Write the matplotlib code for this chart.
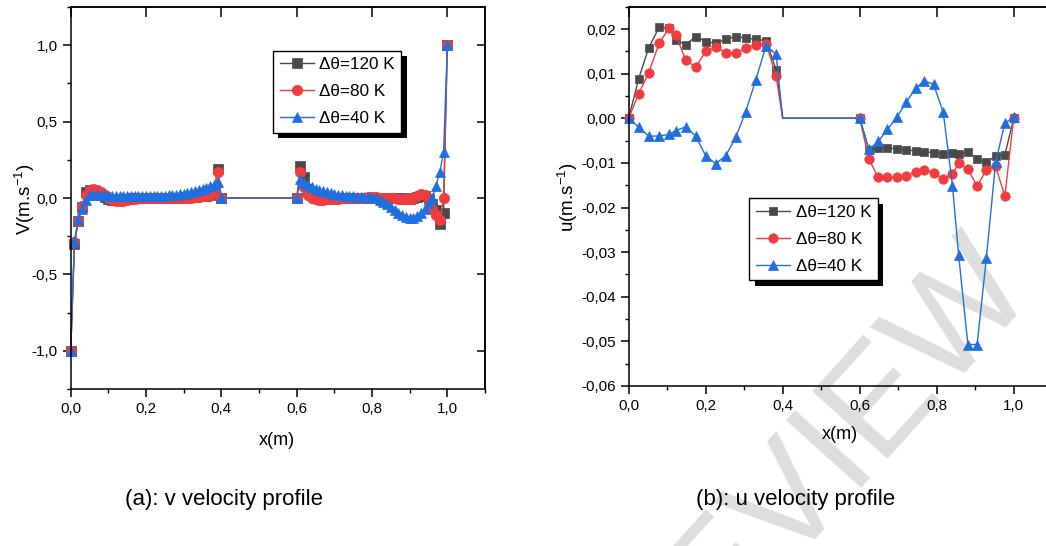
import numpy as np
import matplotlib
matplotlib.use('Agg')
import matplotlib.pyplot as plt
from matplotlib.ticker import MultipleLocator, FuncFormatter, NullLocator
import matplotlib.patheffects as pe

REG = ['Liberation Sans', 'DejaVu Sans']
plt.rcParams['font.family'] = REG
plt.rcParams['mathtext.default'] = 'regular'

series_labels = ['Δθ=120 K', 'Δθ=80 K', 'Δθ=40 K']
colors = ['#4a4a4a', '#ef3d3d', '#1f6fdf']
markers = ['s', 'o', '^']

# ---------------- (a) v velocity profile ----------------
xv_seg1 = [0.00, 0.01, 0.02, 0.03, 0.04, 0.05, 0.06, 0.07, 0.08, 0.09,
           0.10, 0.11, 0.12, 0.13, 0.14, 0.15, 0.16, 0.17, 0.18, 0.19,
           0.20, 0.21, 0.22, 0.23, 0.24, 0.25, 0.26, 0.27, 0.28, 0.29,
           0.30, 0.31, 0.32, 0.33, 0.34, 0.35, 0.36, 0.37, 0.38, 0.39, 0.40]
xv_seg2 = [0.60, 0.61, 0.62, 0.63, 0.64, 0.65, 0.66, 0.67, 0.68, 0.69,
           0.70, 0.71, 0.72, 0.73, 0.74, 0.75, 0.76, 0.77, 0.78, 0.79,
           0.80, 0.81, 0.82, 0.83, 0.84, 0.85, 0.86, 0.87, 0.88, 0.89,
           0.90, 0.91, 0.92, 0.93, 0.94, 0.95, 0.96, 0.97, 0.98, 0.99, 1.00]

v120_seg1 = [-1.00, -0.30, -0.15, -0.06, 0.04, 0.05, 0.045, 0.035, 0.02, 0.005,
             -0.008, -0.014, -0.015, -0.013, -0.009, -0.005, -0.003, -0.002, -0.001, 0.0,
             0.0, 0.0, 0.0, 0.0, 0.0, 0.0, 0.001, 0.001, 0.002, 0.003,
             0.004, 0.005, 0.006, 0.008, 0.010, 0.012, 0.015, 0.02, 0.03, 0.19, 0.0]
v80_seg1 = [-1.00, -0.29, -0.15, -0.05, 0.02, 0.05, 0.06, 0.055, 0.04, 0.02,
            0.0, -0.015, -0.022, -0.022, -0.018, -0.012, -0.007, -0.004, -0.002, -0.001,
            -0.001, -0.002, -0.003, -0.003, -0.003, -0.003, -0.003, -0.002, -0.001, 0.0,
            0.001, 0.002, 0.003, 0.005, 0.007, 0.010, 0.015, 0.022, 0.04, 0.17, 0.0]
v40_seg1 = [-1.00, -0.28, -0.14, -0.07, -0.01, 0.02, 0.022, 0.022, 0.02, 0.018,
            0.016, 0.014, 0.013, 0.012, 0.012, 0.011, 0.011, 0.011, 0.011, 0.011,
            0.011, 0.012, 0.012, 0.013, 0.014, 0.015, 0.017, 0.019, 0.022, 0.025,
            0.029, 0.034, 0.039, 0.045, 0.052, 0.059, 0.067, 0.076, 0.088, 0.105, 0.0]

v120_seg2 = [0.0, 0.21, 0.14, 0.06, 0.02, 0.0, -0.005, -0.006, -0.006, -0.005,
             -0.004, -0.003, -0.002, -0.001, 0.0, 0.0, 0.0, 0.0, 0.0, 0.0,
             0.0, 0.0, 0.0, 0.0, 0.0, 0.0, 0.0, 0.0, -0.002, -0.004,
             -0.004, 0.0, 0.008, 0.015, 0.012, -0.005, -0.04, -0.08, -0.17, -0.10, 1.0]
v80_seg2 = [0.0, 0.17, 0.07, 0.02, 0.0, -0.008, -0.01, -0.01, -0.009, -0.007,
            -0.005, -0.004, -0.003, -0.002, -0.001, 0.0, 0.001, 0.002, 0.003, 0.004,
            0.004, 0.004, 0.003, 0.002, 0.001, 0.0, -0.002, -0.004, -0.006, -0.008,
            -0.008, -0.002, 0.012, 0.024, 0.02, -0.02, -0.07, -0.11, -0.145, 0.0, 1.0]
v40_seg2 = [0.0, 0.125, 0.10, 0.085, 0.072, 0.062, 0.053, 0.045, 0.038, 0.032,
            0.027, 0.022, 0.018, 0.015, 0.012, 0.010, 0.008, 0.007, 0.006, 0.005,
            0.003, -0.003, -0.012, -0.025, -0.042, -0.06, -0.078, -0.095, -0.11, -0.122,
            -0.128, -0.128, -0.12, -0.10, -0.07, -0.035, 0.0, 0.08, 0.17, 0.30, 1.0]

# ---------------- (b) u velocity profile ----------------
xu_seg1 = [0.0, 0.026, 0.052, 0.079, 0.105, 0.122, 0.148, 0.174, 0.200, 0.226,
           0.252, 0.278, 0.304, 0.330, 0.357, 0.383, 0.400]
xu_seg2 = [0.600, 0.624, 0.648, 0.672, 0.697, 0.721, 0.745, 0.768, 0.792, 0.817,
           0.841, 0.857, 0.881, 0.905, 0.929, 0.953, 0.977, 1.000]

u120_seg1 = [0.0, 0.0089, 0.0158, 0.0204, 0.0203, 0.0175, 0.0165, 0.0183, 0.0172, 0.0168,
             0.0177, 0.0183, 0.0180, 0.0177, 0.0174, 0.0108, 0.0]
u80_seg1 = [0.0, 0.0055, 0.0102, 0.0168, 0.0202, 0.0187, 0.0131, 0.0114, 0.0150, 0.0160,
            0.0147, 0.0146, 0.0157, 0.0165, 0.0167, 0.0094, 0.0]
u40_seg1 = [0.0, -0.0020, -0.0040, -0.0040, -0.0036, -0.0028, -0.0019, -0.0040, -0.0084, -0.0102,
            -0.0084, -0.0043, 0.0015, 0.0086, 0.0163, 0.0143, 0.0]

u120_seg2 = [0.0, -0.0072, -0.0067, -0.0066, -0.0069, -0.0071, -0.0073, -0.0075, -0.0077, -0.0079,
             -0.0077, -0.0079, -0.0076, -0.0092, -0.0099, -0.0084, -0.0082, 0.0]
u80_seg2 = [0.0, -0.0092, -0.0132, -0.0132, -0.0132, -0.0129, -0.0121, -0.0116, -0.0122, -0.0136,
            -0.0125, -0.0101, -0.0114, -0.0152, -0.0116, -0.0108, -0.0174, 0.0]
u40_seg2 = [0.0, -0.0070, -0.0052, -0.0025, 0.0003, 0.0036, 0.0067, 0.0084, 0.0076, 0.0013,
            -0.0151, -0.0307, -0.0507, -0.0507, -0.0313, -0.0099, -0.0011, 0.0002]

captions = ['(a): v velocity profile', '(b): u velocity profile']

W, H = 1046, 546
fig = plt.figure(figsize=(W / 100, H / 100), dpi=100)

def px_axes(l, t, r, b):
    return fig.add_axes([l / W, 1 - b / H, (r - l) / W, (b - t) / H])

axA = px_axes(70.7, 7, 485, 389)
axB = px_axes(628.7, 6.7, 1052.2, 386)

def fmt(dec):
    def f(v, p):
        if abs(v) < 1e-12:
            v = 0.0
        return f"{v:.{dec}f}".replace('.', ',')
    return FuncFormatter(f)

def style(ax, ydec, ymaj, ymin, ylim, yticks_in=None, right_ticks=False):
    ax.set_xlim(0, 1.1)
    ax.set_ylim(*ylim)
    ax.patch.set_alpha(0)
    ax.xaxis.set_major_locator(MultipleLocator(0.2))
    ax.xaxis.set_minor_locator(MultipleLocator(0.1))
    ax.yaxis.set_major_locator(MultipleLocator(ymaj))
    ax.yaxis.set_minor_locator(MultipleLocator(ymin))
    ax.xaxis.set_major_formatter(fmt(1))
    ax.yaxis.set_major_formatter(fmt(ydec))
    ax.tick_params(which='major', direction='out', length=6, width=1.1,
                   labelsize=11, top=False, right=False, pad=3.5)
    ax.tick_params(which='minor', direction='out', length=3, width=1.0,
                   top=False, right=False)
    for s in ax.spines.values():
        s.set_linewidth(1.1)
    sx = ax.secondary_xaxis('top')
    sx.set_xticks([0.0, 0.2, 0.4, 0.6, 0.8, 1.0])
    sx.xaxis.set_minor_locator(NullLocator())
    sx.tick_params(direction='in', length=7, width=1.1, labeltop=False)
    sx.spines['top'].set_linewidth(1.1)
    if right_ticks:
        sy = ax.secondary_yaxis('right')
        sy.set_yticks(yticks_in)
        sy.yaxis.set_minor_locator(NullLocator())
        sy.tick_params(direction='in', length=6, width=1.1, labelright=False)
        sy.spines['right'].set_linewidth(1.1)

style(axA, 1, 0.5, 0.25, (-1.25, 1.25), [-1.0, -0.5, 0.0, 0.5, 1.0], True)
style(axB, 2, 0.01, 0.005, (-0.06, 0.025))

xv = xv_seg1 + xv_seg2
vdata = [v120_seg1 + v120_seg2, v80_seg1 + v80_seg2, v40_seg1 + v40_seg2]
msA = [6.5, 7.5, 7.5]
for yv, c, m, lab, ms in zip(vdata, colors, markers, series_labels, msA):
    axA.plot(xv, yv, color=c, lw=1.0, marker=m, ms=ms, mec=c, mew=0.5,
             label=lab, clip_on=False)

xu = xu_seg1 + xu_seg2
udata = [u120_seg1 + u120_seg2, u80_seg1 + u80_seg2, u40_seg1 + u40_seg2]
mark_idx = [i for i in range(len(xu)) if i != len(xu_seg1) - 1]
msB = [5.8, 6.8, 7.2]
for yu, c, m, lab, ms in zip(udata, colors, markers, series_labels, msB):
    axB.plot(xu, yu, color=c, lw=1.0, marker=m, ms=ms, mec=c, mew=0.5,
             markevery=mark_idx, label=lab, clip_on=False)

axA.set_xlabel('x(m)', fontsize=13)
axA.set_ylabel('V(m.s$^{-1}$)', fontsize=13.5)
axB.set_xlabel('x(m)', fontsize=13)
axB.set_ylabel('u(m.s$^{-1}$)', fontsize=13.5)
axA.xaxis.set_label_coords(0.498, -0.112)
axA.yaxis.set_label_coords(-0.082, 0.497)
axB.xaxis.set_label_coords(0.499, -0.106)
axB.yaxis.set_label_coords(-0.114, 0.498)

def legend(ax, anchor):
    leg = ax.legend(loc='upper left', bbox_to_anchor=anchor, borderaxespad=0,
                    fontsize=12.3, handlelength=2.0, handletextpad=0.3,
                    borderpad=0.4, labelspacing=0.69, fancybox=False,
                    framealpha=1, edgecolor='black')
    fr = leg.get_frame()
    fr.set_linewidth(1.0)
    fr.set_path_effects([pe.SimplePatchShadow(offset=(3.7, -3.8),
                                              shadow_rgbFace='black', alpha=1.0),
                         pe.Normal()])
    return leg

legend(axA, (0.488, 0.886))
legend(axB, (0.285, 0.495))

fig.text(224 / W, 1 - 500 / H, captions[0], fontsize=16, ha='center',
         va='center', family=REG)
fig.text(796 / W, 1 - 500 / H, captions[1], fontsize=16, ha='center',
         va='center', family=REG)

# light watermark
fig.text(1005 / W, 1 - 258 / H, 'PREVIEW', fontsize=105, color='#dedede',
         rotation=48, rotation_mode='anchor', ha='right', va='center',
         zorder=-5, family=REG)

fig.savefig('out.png', dpi=100, facecolor='white')
